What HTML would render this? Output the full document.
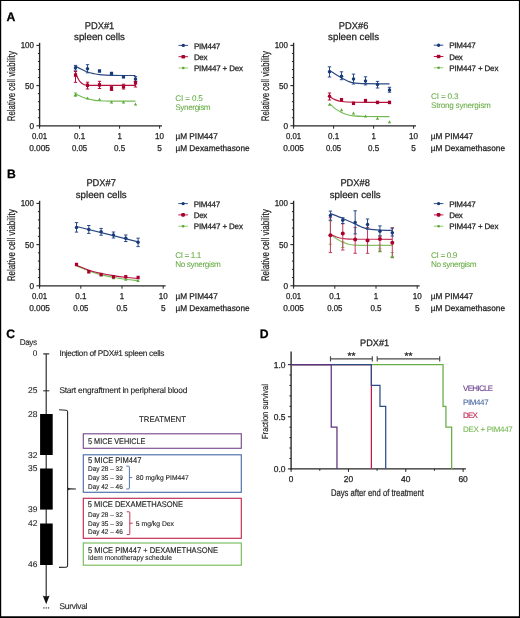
<!DOCTYPE html>
<html><head><meta charset="utf-8"><style>
html,body{margin:0;padding:0;background:#fff;}
svg{display:block;will-change:transform;}
text{font-family:"Liberation Sans", sans-serif;text-rendering:geometricPrecision;}
</style></head><body>
<svg width="520" height="618" viewBox="0 0 520 618">
<rect x="0" y="0" width="520" height="618" fill="#fff"/>
<line x1="39.60" y1="42.80" x2="39.60" y2="126.40" stroke="#262626" stroke-width="1.35" />
<line x1="36.40" y1="125.80" x2="39.60" y2="125.80" stroke="#262626" stroke-width="1.1" />
<line x1="37.90" y1="117.76" x2="39.60" y2="117.76" stroke="#262626" stroke-width="1.0" />
<line x1="37.90" y1="109.72" x2="39.60" y2="109.72" stroke="#262626" stroke-width="1.0" />
<line x1="37.90" y1="101.68" x2="39.60" y2="101.68" stroke="#262626" stroke-width="1.0" />
<line x1="37.90" y1="93.64" x2="39.60" y2="93.64" stroke="#262626" stroke-width="1.0" />
<line x1="36.40" y1="85.60" x2="39.60" y2="85.60" stroke="#262626" stroke-width="1.1" />
<line x1="37.90" y1="77.56" x2="39.60" y2="77.56" stroke="#262626" stroke-width="1.0" />
<line x1="37.90" y1="69.52" x2="39.60" y2="69.52" stroke="#262626" stroke-width="1.0" />
<line x1="37.90" y1="61.48" x2="39.60" y2="61.48" stroke="#262626" stroke-width="1.0" />
<line x1="37.90" y1="53.44" x2="39.60" y2="53.44" stroke="#262626" stroke-width="1.0" />
<line x1="36.40" y1="45.40" x2="39.60" y2="45.40" stroke="#262626" stroke-width="1.1" />
<line x1="39.00" y1="125.80" x2="162.00" y2="125.80" stroke="#262626" stroke-width="1.35" />
<line x1="39.60" y1="125.80" x2="39.60" y2="128.70" stroke="#262626" stroke-width="1.0" />
<line x1="79.60" y1="125.80" x2="79.60" y2="128.70" stroke="#262626" stroke-width="1.0" />
<line x1="119.60" y1="125.80" x2="119.60" y2="128.70" stroke="#262626" stroke-width="1.0" />
<line x1="159.60" y1="125.80" x2="159.60" y2="128.70" stroke="#262626" stroke-width="1.0" />
<text x="34.00" y="48.40" font-size="8.6" fill="#1e1e1e" stroke="#1e1e1e" stroke-width="0.25" text-anchor="end" font-weight="normal" textLength="13.3" lengthAdjust="spacingAndGlyphs" >100</text>
<text x="34.00" y="88.60" font-size="8.6" fill="#1e1e1e" stroke="#1e1e1e" stroke-width="0.25" text-anchor="end" font-weight="normal" textLength="9.0" lengthAdjust="spacingAndGlyphs" >50</text>
<text x="34.00" y="128.80" font-size="8.6" fill="#1e1e1e" stroke="#1e1e1e" stroke-width="0.25" text-anchor="end" font-weight="normal" textLength="4.6" lengthAdjust="spacingAndGlyphs" >0</text>
<text x="39.60" y="139.00" font-size="8.6" fill="#1e1e1e" stroke="#1e1e1e" stroke-width="0.25" text-anchor="middle" font-weight="normal" textLength="15.2" lengthAdjust="spacingAndGlyphs" >0.01</text>
<text x="39.60" y="150.70" font-size="8.6" fill="#1e1e1e" stroke="#1e1e1e" stroke-width="0.25" text-anchor="middle" font-weight="normal" textLength="20.8" lengthAdjust="spacingAndGlyphs" >0.005</text>
<text x="79.60" y="139.00" font-size="8.6" fill="#1e1e1e" stroke="#1e1e1e" stroke-width="0.25" text-anchor="middle" font-weight="normal" textLength="11.2" lengthAdjust="spacingAndGlyphs" >0.1</text>
<text x="79.60" y="150.70" font-size="8.6" fill="#1e1e1e" stroke="#1e1e1e" stroke-width="0.25" text-anchor="middle" font-weight="normal" textLength="15.2" lengthAdjust="spacingAndGlyphs" >0.05</text>
<text x="119.60" y="139.00" font-size="8.6" fill="#1e1e1e" stroke="#1e1e1e" stroke-width="0.25" text-anchor="middle" font-weight="normal" textLength="4.4" lengthAdjust="spacingAndGlyphs" >1</text>
<text x="119.60" y="150.70" font-size="8.6" fill="#1e1e1e" stroke="#1e1e1e" stroke-width="0.25" text-anchor="middle" font-weight="normal" textLength="11.2" lengthAdjust="spacingAndGlyphs" >0.5</text>
<text x="159.60" y="139.00" font-size="8.6" fill="#1e1e1e" stroke="#1e1e1e" stroke-width="0.25" text-anchor="middle" font-weight="normal" textLength="9.0" lengthAdjust="spacingAndGlyphs" >10</text>
<text x="159.60" y="150.70" font-size="8.6" fill="#1e1e1e" stroke="#1e1e1e" stroke-width="0.25" text-anchor="middle" font-weight="normal" textLength="4.6" lengthAdjust="spacingAndGlyphs" >5</text>
<text x="175.40" y="139.00" font-size="8.5" fill="#1e1e1e" stroke="#1e1e1e" stroke-width="0.25" text-anchor="start" font-weight="normal" textLength="42.4" lengthAdjust="spacingAndGlyphs" >&#181;M PIM447</text>
<text x="175.40" y="150.70" font-size="8.5" fill="#1e1e1e" stroke="#1e1e1e" stroke-width="0.25" text-anchor="start" font-weight="normal" textLength="74.2" lengthAdjust="spacingAndGlyphs" >&#181;M Dexamethasone</text>
<text transform="translate(14.700000000000003,86.19999999999999) rotate(-90)" font-size="11.0" fill="#1e1e1e" stroke="#1e1e1e" stroke-width="0.22" text-anchor="middle" textLength="70" lengthAdjust="spacingAndGlyphs">Relative cell viability</text>
<text x="99.50" y="28.50" font-size="9.8" fill="#1e1e1e" stroke="#1e1e1e" stroke-width="0.25" text-anchor="middle" font-weight="normal" textLength="29.6" lengthAdjust="spacingAndGlyphs" >PDX#1</text>
<text x="99.50" y="40.10" font-size="9.8" fill="#1e1e1e" stroke="#1e1e1e" stroke-width="0.25" text-anchor="middle" font-weight="normal" textLength="51" lengthAdjust="spacingAndGlyphs" >spleen cells</text>
<line x1="178.50" y1="45.40" x2="188.10" y2="45.40" stroke="#2a4a85" stroke-width="0.95" />
<circle cx="183.3" cy="45.4" r="1.7" fill="#173a78"/>
<text x="193.90" y="48.60" font-size="8.0" fill="#1e1e1e" stroke="#1e1e1e" stroke-width="0.25" text-anchor="start" font-weight="normal" textLength="26.4" lengthAdjust="spacing" >PIM447</text>
<line x1="178.50" y1="56.70" x2="188.10" y2="56.70" stroke="#b3103c" stroke-width="0.95" />
<rect x="181.4" y="54.900000000000006" width="3.8" height="3.6" rx="1.1" fill="#a9002c"/>
<text x="193.90" y="59.90" font-size="8.0" fill="#1e1e1e" stroke="#1e1e1e" stroke-width="0.25" text-anchor="start" font-weight="normal" textLength="13.6" lengthAdjust="spacing" >Dex</text>
<line x1="178.50" y1="68.00" x2="188.10" y2="68.00" stroke="#92c772" stroke-width="0.95" />
<circle cx="183.3" cy="68.0" r="1.3" fill="#5aa63a"/>
<text x="193.90" y="71.20" font-size="8.0" fill="#1e1e1e" stroke="#1e1e1e" stroke-width="0.25" text-anchor="start" font-weight="normal" textLength="49.2" lengthAdjust="spacing" >PIM447 + Dex</text>
<text x="175.30" y="101.30" font-size="8.2" fill="#66ab44" stroke="#66ab44" stroke-width="0.05" text-anchor="start" font-weight="normal" textLength="27.6" lengthAdjust="spacing" >CI = 0.5</text>
<text x="175.30" y="110.30" font-size="8.2" fill="#66ab44" stroke="#66ab44" stroke-width="0.05" text-anchor="start" font-weight="normal" textLength="35.4" lengthAdjust="spacing" >Synergism</text>
<path d="M75.50 94.00 C76.50 94.45 79.50 95.92 81.50 96.70 C83.50 97.48 85.50 98.13 87.50 98.70 C89.50 99.27 91.50 99.75 93.50 100.10 C95.50 100.45 96.50 100.63 99.50 100.80 C102.50 100.97 105.50 101.04 111.50 101.10 C117.50 101.16 131.50 101.14 135.50 101.15" fill="none" stroke="#74ba52" stroke-width="1.15"/>
<path d="M75.50 72.30 C75.83 73.17 76.75 75.95 77.50 77.50 C78.25 79.05 79.00 80.47 80.00 81.60 C81.00 82.73 82.25 83.70 83.50 84.30 C84.75 84.90 84.83 85.02 87.50 85.20 C90.17 85.38 91.50 85.37 99.50 85.40 C107.50 85.43 129.50 85.40 135.50 85.40" fill="none" stroke="#b3103c" stroke-width="1.15"/>
<path d="M75.50 66.00 C76.50 66.55 79.50 68.30 81.50 69.30 C83.50 70.30 85.50 71.28 87.50 72.00 C89.50 72.72 91.50 73.17 93.50 73.60 C95.50 74.03 96.50 74.32 99.50 74.60 C102.50 74.88 105.50 75.15 111.50 75.30 C117.50 75.45 131.50 75.47 135.50 75.50" fill="none" stroke="#2a4a85" stroke-width="1.2"/>
<line x1="75.50" y1="93.00" x2="75.50" y2="96.30" stroke="#74ba52" stroke-width="1.0" />
<line x1="73.80" y1="93.00" x2="77.20" y2="93.00" stroke="#74ba52" stroke-width="1.0" />
<line x1="73.80" y1="96.30" x2="77.20" y2="96.30" stroke="#74ba52" stroke-width="1.0" />
<line x1="75.50" y1="71.50" x2="75.50" y2="82.30" stroke="#b3103c" stroke-width="1.0" />
<line x1="73.80" y1="71.50" x2="77.20" y2="71.50" stroke="#b3103c" stroke-width="1.0" />
<line x1="73.80" y1="82.30" x2="77.20" y2="82.30" stroke="#b3103c" stroke-width="1.0" />
<line x1="87.50" y1="82.20" x2="87.50" y2="89.00" stroke="#b3103c" stroke-width="1.0" />
<line x1="85.80" y1="82.20" x2="89.20" y2="82.20" stroke="#b3103c" stroke-width="1.0" />
<line x1="85.80" y1="89.00" x2="89.20" y2="89.00" stroke="#b3103c" stroke-width="1.0" />
<line x1="99.50" y1="81.30" x2="99.50" y2="88.50" stroke="#b3103c" stroke-width="1.0" />
<line x1="97.80" y1="81.30" x2="101.20" y2="81.30" stroke="#b3103c" stroke-width="1.0" />
<line x1="97.80" y1="88.50" x2="101.20" y2="88.50" stroke="#b3103c" stroke-width="1.0" />
<line x1="111.50" y1="86.20" x2="111.50" y2="90.50" stroke="#b3103c" stroke-width="1.0" />
<line x1="109.80" y1="86.20" x2="113.20" y2="86.20" stroke="#b3103c" stroke-width="1.0" />
<line x1="109.80" y1="90.50" x2="113.20" y2="90.50" stroke="#b3103c" stroke-width="1.0" />
<line x1="123.50" y1="84.20" x2="123.50" y2="89.00" stroke="#b3103c" stroke-width="1.0" />
<line x1="121.80" y1="84.20" x2="125.20" y2="84.20" stroke="#b3103c" stroke-width="1.0" />
<line x1="121.80" y1="89.00" x2="125.20" y2="89.00" stroke="#b3103c" stroke-width="1.0" />
<line x1="135.50" y1="81.20" x2="135.50" y2="87.00" stroke="#b3103c" stroke-width="1.0" />
<line x1="133.80" y1="81.20" x2="137.20" y2="81.20" stroke="#b3103c" stroke-width="1.0" />
<line x1="133.80" y1="87.00" x2="137.20" y2="87.00" stroke="#b3103c" stroke-width="1.0" />
<line x1="75.50" y1="65.40" x2="75.50" y2="70.20" stroke="#2a4a85" stroke-width="1.0" />
<line x1="73.80" y1="65.40" x2="77.20" y2="65.40" stroke="#2a4a85" stroke-width="1.0" />
<line x1="73.80" y1="70.20" x2="77.20" y2="70.20" stroke="#2a4a85" stroke-width="1.0" />
<line x1="87.50" y1="64.70" x2="87.50" y2="72.80" stroke="#2a4a85" stroke-width="1.0" />
<line x1="85.80" y1="64.70" x2="89.20" y2="64.70" stroke="#2a4a85" stroke-width="1.0" />
<line x1="85.80" y1="72.80" x2="89.20" y2="72.80" stroke="#2a4a85" stroke-width="1.0" />
<line x1="135.50" y1="76.60" x2="135.50" y2="81.60" stroke="#2a4a85" stroke-width="1.0" />
<line x1="133.80" y1="76.60" x2="137.20" y2="76.60" stroke="#2a4a85" stroke-width="1.0" />
<line x1="133.80" y1="81.60" x2="137.20" y2="81.60" stroke="#2a4a85" stroke-width="1.0" />
<path d="M73.85 96.00 L77.15 96.00 L75.50 93.00Z" fill="#5aa63a"/>
<path d="M85.85 99.40 L89.15 99.40 L87.50 96.40Z" fill="#5aa63a"/>
<path d="M97.85 100.70 L101.15 100.70 L99.50 97.70Z" fill="#5aa63a"/>
<path d="M109.85 103.40 L113.15 103.40 L111.50 100.40Z" fill="#5aa63a"/>
<path d="M121.85 103.40 L125.15 103.40 L123.50 100.40Z" fill="#5aa63a"/>
<path d="M133.85 105.40 L137.15 105.40 L135.50 102.40Z" fill="#5aa63a"/>
<rect x="73.90" y="73.35" width="3.2" height="3.5" fill="#a9002c"/>
<rect x="85.90" y="83.55" width="3.2" height="3.5" fill="#a9002c"/>
<rect x="97.90" y="83.15" width="3.2" height="3.5" fill="#a9002c"/>
<rect x="109.90" y="86.55" width="3.2" height="3.5" fill="#a9002c"/>
<rect x="121.90" y="84.85" width="3.2" height="3.5" fill="#a9002c"/>
<rect x="133.90" y="81.15" width="3.2" height="3.5" fill="#a9002c"/>
<circle cx="75.50" cy="67.80" r="1.75" fill="#173a78"/>
<circle cx="87.50" cy="68.70" r="1.75" fill="#173a78"/>
<rect x="97.90" y="69.25" width="3.2" height="3.5" fill="#173a78"/>
<rect x="109.90" y="71.75" width="3.2" height="3.5" fill="#173a78"/>
<rect x="121.90" y="75.05" width="3.2" height="3.5" fill="#173a78"/>
<circle cx="135.50" cy="78.90" r="1.75" fill="#173a78"/>
<line x1="293.60" y1="42.80" x2="293.60" y2="126.40" stroke="#262626" stroke-width="1.35" />
<line x1="290.40" y1="125.80" x2="293.60" y2="125.80" stroke="#262626" stroke-width="1.1" />
<line x1="291.90" y1="117.76" x2="293.60" y2="117.76" stroke="#262626" stroke-width="1.0" />
<line x1="291.90" y1="109.72" x2="293.60" y2="109.72" stroke="#262626" stroke-width="1.0" />
<line x1="291.90" y1="101.68" x2="293.60" y2="101.68" stroke="#262626" stroke-width="1.0" />
<line x1="291.90" y1="93.64" x2="293.60" y2="93.64" stroke="#262626" stroke-width="1.0" />
<line x1="290.40" y1="85.60" x2="293.60" y2="85.60" stroke="#262626" stroke-width="1.1" />
<line x1="291.90" y1="77.56" x2="293.60" y2="77.56" stroke="#262626" stroke-width="1.0" />
<line x1="291.90" y1="69.52" x2="293.60" y2="69.52" stroke="#262626" stroke-width="1.0" />
<line x1="291.90" y1="61.48" x2="293.60" y2="61.48" stroke="#262626" stroke-width="1.0" />
<line x1="291.90" y1="53.44" x2="293.60" y2="53.44" stroke="#262626" stroke-width="1.0" />
<line x1="290.40" y1="45.40" x2="293.60" y2="45.40" stroke="#262626" stroke-width="1.1" />
<line x1="293.00" y1="125.80" x2="416.00" y2="125.80" stroke="#262626" stroke-width="1.35" />
<line x1="293.60" y1="125.80" x2="293.60" y2="128.70" stroke="#262626" stroke-width="1.0" />
<line x1="333.60" y1="125.80" x2="333.60" y2="128.70" stroke="#262626" stroke-width="1.0" />
<line x1="373.60" y1="125.80" x2="373.60" y2="128.70" stroke="#262626" stroke-width="1.0" />
<line x1="413.60" y1="125.80" x2="413.60" y2="128.70" stroke="#262626" stroke-width="1.0" />
<text x="288.00" y="48.40" font-size="8.6" fill="#1e1e1e" stroke="#1e1e1e" stroke-width="0.25" text-anchor="end" font-weight="normal" textLength="13.3" lengthAdjust="spacingAndGlyphs" >100</text>
<text x="288.00" y="88.60" font-size="8.6" fill="#1e1e1e" stroke="#1e1e1e" stroke-width="0.25" text-anchor="end" font-weight="normal" textLength="9.0" lengthAdjust="spacingAndGlyphs" >50</text>
<text x="288.00" y="128.80" font-size="8.6" fill="#1e1e1e" stroke="#1e1e1e" stroke-width="0.25" text-anchor="end" font-weight="normal" textLength="4.6" lengthAdjust="spacingAndGlyphs" >0</text>
<text x="293.60" y="139.00" font-size="8.6" fill="#1e1e1e" stroke="#1e1e1e" stroke-width="0.25" text-anchor="middle" font-weight="normal" textLength="15.2" lengthAdjust="spacingAndGlyphs" >0.01</text>
<text x="293.60" y="150.70" font-size="8.6" fill="#1e1e1e" stroke="#1e1e1e" stroke-width="0.25" text-anchor="middle" font-weight="normal" textLength="20.8" lengthAdjust="spacingAndGlyphs" >0.005</text>
<text x="333.60" y="139.00" font-size="8.6" fill="#1e1e1e" stroke="#1e1e1e" stroke-width="0.25" text-anchor="middle" font-weight="normal" textLength="11.2" lengthAdjust="spacingAndGlyphs" >0.1</text>
<text x="333.60" y="150.70" font-size="8.6" fill="#1e1e1e" stroke="#1e1e1e" stroke-width="0.25" text-anchor="middle" font-weight="normal" textLength="15.2" lengthAdjust="spacingAndGlyphs" >0.05</text>
<text x="373.60" y="139.00" font-size="8.6" fill="#1e1e1e" stroke="#1e1e1e" stroke-width="0.25" text-anchor="middle" font-weight="normal" textLength="4.4" lengthAdjust="spacingAndGlyphs" >1</text>
<text x="373.60" y="150.70" font-size="8.6" fill="#1e1e1e" stroke="#1e1e1e" stroke-width="0.25" text-anchor="middle" font-weight="normal" textLength="11.2" lengthAdjust="spacingAndGlyphs" >0.5</text>
<text x="413.60" y="139.00" font-size="8.6" fill="#1e1e1e" stroke="#1e1e1e" stroke-width="0.25" text-anchor="middle" font-weight="normal" textLength="9.0" lengthAdjust="spacingAndGlyphs" >10</text>
<text x="413.60" y="150.70" font-size="8.6" fill="#1e1e1e" stroke="#1e1e1e" stroke-width="0.25" text-anchor="middle" font-weight="normal" textLength="4.6" lengthAdjust="spacingAndGlyphs" >5</text>
<text x="430.80" y="139.00" font-size="8.5" fill="#1e1e1e" stroke="#1e1e1e" stroke-width="0.25" text-anchor="start" font-weight="normal" textLength="42.4" lengthAdjust="spacingAndGlyphs" >&#181;M PIM447</text>
<text x="430.80" y="150.70" font-size="8.5" fill="#1e1e1e" stroke="#1e1e1e" stroke-width="0.25" text-anchor="start" font-weight="normal" textLength="74.2" lengthAdjust="spacingAndGlyphs" >&#181;M Dexamethasone</text>
<text transform="translate(268.70000000000005,86.19999999999999) rotate(-90)" font-size="11.0" fill="#1e1e1e" stroke="#1e1e1e" stroke-width="0.22" text-anchor="middle" textLength="70" lengthAdjust="spacingAndGlyphs">Relative cell viability</text>
<text x="353.60" y="28.50" font-size="9.8" fill="#1e1e1e" stroke="#1e1e1e" stroke-width="0.25" text-anchor="middle" font-weight="normal" textLength="29.6" lengthAdjust="spacingAndGlyphs" >PDX#6</text>
<text x="353.60" y="40.10" font-size="9.8" fill="#1e1e1e" stroke="#1e1e1e" stroke-width="0.25" text-anchor="middle" font-weight="normal" textLength="51" lengthAdjust="spacingAndGlyphs" >spleen cells</text>
<line x1="433.80" y1="45.20" x2="443.40" y2="45.20" stroke="#2a4a85" stroke-width="0.95" />
<circle cx="438.6" cy="45.2" r="1.7" fill="#173a78"/>
<text x="449.20" y="48.40" font-size="8.0" fill="#1e1e1e" stroke="#1e1e1e" stroke-width="0.25" text-anchor="start" font-weight="normal" textLength="26.4" lengthAdjust="spacing" >PIM447</text>
<line x1="433.80" y1="56.50" x2="443.40" y2="56.50" stroke="#b3103c" stroke-width="0.95" />
<rect x="436.70000000000005" y="54.7" width="3.8" height="3.6" rx="1.1" fill="#a9002c"/>
<text x="449.20" y="59.70" font-size="8.0" fill="#1e1e1e" stroke="#1e1e1e" stroke-width="0.25" text-anchor="start" font-weight="normal" textLength="13.6" lengthAdjust="spacing" >Dex</text>
<line x1="433.80" y1="67.80" x2="443.40" y2="67.80" stroke="#92c772" stroke-width="0.95" />
<circle cx="438.6" cy="67.80000000000001" r="1.3" fill="#5aa63a"/>
<text x="449.20" y="71.00" font-size="8.0" fill="#1e1e1e" stroke="#1e1e1e" stroke-width="0.25" text-anchor="start" font-weight="normal" textLength="49.2" lengthAdjust="spacing" >PIM447 + Dex</text>
<text x="431.00" y="98.70" font-size="8.2" fill="#66ab44" stroke="#66ab44" stroke-width="0.05" text-anchor="start" font-weight="normal" textLength="27.6" lengthAdjust="spacing" >CI = 0.3</text>
<text x="431.00" y="107.70" font-size="8.2" fill="#66ab44" stroke="#66ab44" stroke-width="0.05" text-anchor="start" font-weight="normal" textLength="59.8" lengthAdjust="spacing" >Strong synergism</text>
<path d="M329.50 103.60 C330.50 104.48 333.50 107.43 335.50 108.90 C337.50 110.37 339.50 111.43 341.50 112.40 C343.50 113.37 345.50 114.12 347.50 114.70 C349.50 115.28 350.50 115.60 353.50 115.90 C356.50 116.20 359.50 116.38 365.50 116.50 C371.50 116.62 385.50 116.58 389.50 116.60" fill="none" stroke="#74ba52" stroke-width="1.15"/>
<path d="M329.50 96.50 C330.50 97.07 333.50 99.07 335.50 99.90 C337.50 100.73 338.50 101.12 341.50 101.50 C344.50 101.88 345.50 102.05 353.50 102.20 C361.50 102.35 383.50 102.37 389.50 102.40" fill="none" stroke="#b3103c" stroke-width="1.15"/>
<path d="M329.50 70.40 C330.50 71.03 333.50 72.95 335.50 74.20 C337.50 75.45 339.50 76.77 341.50 77.90 C343.50 79.03 345.50 80.17 347.50 81.00 C349.50 81.83 350.50 82.45 353.50 82.90 C356.50 83.35 359.50 83.55 365.50 83.70 C371.50 83.85 385.50 83.78 389.50 83.80" fill="none" stroke="#2a4a85" stroke-width="1.2"/>
<line x1="329.50" y1="93.00" x2="329.50" y2="100.00" stroke="#b3103c" stroke-width="1.0" />
<line x1="327.80" y1="93.00" x2="331.20" y2="93.00" stroke="#b3103c" stroke-width="1.0" />
<line x1="327.80" y1="100.00" x2="331.20" y2="100.00" stroke="#b3103c" stroke-width="1.0" />
<line x1="329.50" y1="66.80" x2="329.50" y2="77.00" stroke="#2a4a85" stroke-width="1.0" />
<line x1="327.80" y1="66.80" x2="331.20" y2="66.80" stroke="#2a4a85" stroke-width="1.0" />
<line x1="327.80" y1="77.00" x2="331.20" y2="77.00" stroke="#2a4a85" stroke-width="1.0" />
<line x1="341.50" y1="71.80" x2="341.50" y2="79.70" stroke="#2a4a85" stroke-width="1.0" />
<line x1="339.80" y1="71.80" x2="343.20" y2="71.80" stroke="#2a4a85" stroke-width="1.0" />
<line x1="339.80" y1="79.70" x2="343.20" y2="79.70" stroke="#2a4a85" stroke-width="1.0" />
<line x1="353.50" y1="74.10" x2="353.50" y2="84.00" stroke="#2a4a85" stroke-width="1.0" />
<line x1="351.80" y1="74.10" x2="355.20" y2="74.10" stroke="#2a4a85" stroke-width="1.0" />
<line x1="351.80" y1="84.00" x2="355.20" y2="84.00" stroke="#2a4a85" stroke-width="1.0" />
<line x1="365.50" y1="76.80" x2="365.50" y2="84.90" stroke="#2a4a85" stroke-width="1.0" />
<line x1="363.80" y1="76.80" x2="367.20" y2="76.80" stroke="#2a4a85" stroke-width="1.0" />
<line x1="363.80" y1="84.90" x2="367.20" y2="84.90" stroke="#2a4a85" stroke-width="1.0" />
<line x1="377.50" y1="81.40" x2="377.50" y2="88.00" stroke="#2a4a85" stroke-width="1.0" />
<line x1="375.80" y1="81.40" x2="379.20" y2="81.40" stroke="#2a4a85" stroke-width="1.0" />
<line x1="375.80" y1="88.00" x2="379.20" y2="88.00" stroke="#2a4a85" stroke-width="1.0" />
<line x1="389.50" y1="87.30" x2="389.50" y2="92.20" stroke="#2a4a85" stroke-width="1.0" />
<line x1="387.80" y1="87.30" x2="391.20" y2="87.30" stroke="#2a4a85" stroke-width="1.0" />
<line x1="387.80" y1="92.20" x2="391.20" y2="92.20" stroke="#2a4a85" stroke-width="1.0" />
<path d="M327.85 105.70 L331.15 105.70 L329.50 102.70Z" fill="#5aa63a"/>
<path d="M339.85 111.30 L343.15 111.30 L341.50 108.30Z" fill="#5aa63a"/>
<path d="M351.85 114.50 L355.15 114.50 L353.50 111.50Z" fill="#5aa63a"/>
<path d="M363.85 117.60 L367.15 117.60 L365.50 114.60Z" fill="#5aa63a"/>
<path d="M375.85 119.80 L379.15 119.80 L377.50 116.80Z" fill="#5aa63a"/>
<path d="M387.85 123.20 L391.15 123.20 L389.50 120.20Z" fill="#5aa63a"/>
<circle cx="329.50" cy="96.30" r="1.75" fill="#a9002c"/>
<rect x="339.90" y="97.95" width="3.2" height="3.5" fill="#a9002c"/>
<rect x="351.90" y="101.55" width="3.2" height="3.5" fill="#a9002c"/>
<rect x="363.90" y="98.85" width="3.2" height="3.5" fill="#a9002c"/>
<rect x="375.90" y="100.65" width="3.2" height="3.5" fill="#a9002c"/>
<rect x="387.90" y="100.65" width="3.2" height="3.5" fill="#a9002c"/>
<circle cx="329.50" cy="71.80" r="1.75" fill="#173a78"/>
<circle cx="341.50" cy="76.20" r="1.75" fill="#173a78"/>
<circle cx="353.50" cy="79.10" r="1.75" fill="#173a78"/>
<circle cx="365.50" cy="80.90" r="1.75" fill="#173a78"/>
<circle cx="377.50" cy="84.60" r="1.75" fill="#173a78"/>
<circle cx="389.50" cy="89.90" r="1.75" fill="#173a78"/>
<line x1="39.60" y1="200.80" x2="39.60" y2="286.40" stroke="#262626" stroke-width="1.35" />
<line x1="36.40" y1="285.80" x2="39.60" y2="285.80" stroke="#262626" stroke-width="1.1" />
<line x1="37.90" y1="277.56" x2="39.60" y2="277.56" stroke="#262626" stroke-width="1.0" />
<line x1="37.90" y1="269.32" x2="39.60" y2="269.32" stroke="#262626" stroke-width="1.0" />
<line x1="37.90" y1="261.08" x2="39.60" y2="261.08" stroke="#262626" stroke-width="1.0" />
<line x1="37.90" y1="252.84" x2="39.60" y2="252.84" stroke="#262626" stroke-width="1.0" />
<line x1="36.40" y1="244.60" x2="39.60" y2="244.60" stroke="#262626" stroke-width="1.1" />
<line x1="37.90" y1="236.36" x2="39.60" y2="236.36" stroke="#262626" stroke-width="1.0" />
<line x1="37.90" y1="228.12" x2="39.60" y2="228.12" stroke="#262626" stroke-width="1.0" />
<line x1="37.90" y1="219.88" x2="39.60" y2="219.88" stroke="#262626" stroke-width="1.0" />
<line x1="37.90" y1="211.64" x2="39.60" y2="211.64" stroke="#262626" stroke-width="1.0" />
<line x1="36.40" y1="203.40" x2="39.60" y2="203.40" stroke="#262626" stroke-width="1.1" />
<line x1="39.00" y1="285.80" x2="165.60" y2="285.80" stroke="#262626" stroke-width="1.35" />
<line x1="39.60" y1="285.80" x2="39.60" y2="288.70" stroke="#262626" stroke-width="1.0" />
<line x1="80.80" y1="285.80" x2="80.80" y2="288.70" stroke="#262626" stroke-width="1.0" />
<line x1="122.00" y1="285.80" x2="122.00" y2="288.70" stroke="#262626" stroke-width="1.0" />
<line x1="163.20" y1="285.80" x2="163.20" y2="288.70" stroke="#262626" stroke-width="1.0" />
<text x="34.00" y="206.40" font-size="8.6" fill="#1e1e1e" stroke="#1e1e1e" stroke-width="0.25" text-anchor="end" font-weight="normal" textLength="13.3" lengthAdjust="spacingAndGlyphs" >100</text>
<text x="34.00" y="247.60" font-size="8.6" fill="#1e1e1e" stroke="#1e1e1e" stroke-width="0.25" text-anchor="end" font-weight="normal" textLength="9.0" lengthAdjust="spacingAndGlyphs" >50</text>
<text x="34.00" y="288.80" font-size="8.6" fill="#1e1e1e" stroke="#1e1e1e" stroke-width="0.25" text-anchor="end" font-weight="normal" textLength="4.6" lengthAdjust="spacingAndGlyphs" >0</text>
<text x="39.60" y="299.00" font-size="8.6" fill="#1e1e1e" stroke="#1e1e1e" stroke-width="0.25" text-anchor="middle" font-weight="normal" textLength="15.2" lengthAdjust="spacingAndGlyphs" >0.01</text>
<text x="39.60" y="310.90" font-size="8.6" fill="#1e1e1e" stroke="#1e1e1e" stroke-width="0.25" text-anchor="middle" font-weight="normal" textLength="20.8" lengthAdjust="spacingAndGlyphs" >0.005</text>
<text x="80.80" y="299.00" font-size="8.6" fill="#1e1e1e" stroke="#1e1e1e" stroke-width="0.25" text-anchor="middle" font-weight="normal" textLength="11.2" lengthAdjust="spacingAndGlyphs" >0.1</text>
<text x="80.80" y="310.90" font-size="8.6" fill="#1e1e1e" stroke="#1e1e1e" stroke-width="0.25" text-anchor="middle" font-weight="normal" textLength="15.2" lengthAdjust="spacingAndGlyphs" >0.05</text>
<text x="122.00" y="299.00" font-size="8.6" fill="#1e1e1e" stroke="#1e1e1e" stroke-width="0.25" text-anchor="middle" font-weight="normal" textLength="4.4" lengthAdjust="spacingAndGlyphs" >1</text>
<text x="122.00" y="310.90" font-size="8.6" fill="#1e1e1e" stroke="#1e1e1e" stroke-width="0.25" text-anchor="middle" font-weight="normal" textLength="11.2" lengthAdjust="spacingAndGlyphs" >0.5</text>
<text x="163.20" y="299.00" font-size="8.6" fill="#1e1e1e" stroke="#1e1e1e" stroke-width="0.25" text-anchor="middle" font-weight="normal" textLength="9.0" lengthAdjust="spacingAndGlyphs" >10</text>
<text x="163.20" y="310.90" font-size="8.6" fill="#1e1e1e" stroke="#1e1e1e" stroke-width="0.25" text-anchor="middle" font-weight="normal" textLength="4.6" lengthAdjust="spacingAndGlyphs" >5</text>
<text x="175.40" y="299.00" font-size="8.5" fill="#1e1e1e" stroke="#1e1e1e" stroke-width="0.25" text-anchor="start" font-weight="normal" textLength="42.4" lengthAdjust="spacingAndGlyphs" >&#181;M PIM447</text>
<text x="175.40" y="310.90" font-size="8.5" fill="#1e1e1e" stroke="#1e1e1e" stroke-width="0.25" text-anchor="start" font-weight="normal" textLength="74.2" lengthAdjust="spacingAndGlyphs" >&#181;M Dexamethasone</text>
<text transform="translate(14.700000000000003,245.2) rotate(-90)" font-size="11.0" fill="#1e1e1e" stroke="#1e1e1e" stroke-width="0.22" text-anchor="middle" textLength="72" lengthAdjust="spacingAndGlyphs">Relative cell viability</text>
<text x="101.20" y="186.30" font-size="9.8" fill="#1e1e1e" stroke="#1e1e1e" stroke-width="0.25" text-anchor="middle" font-weight="normal" textLength="29.6" lengthAdjust="spacingAndGlyphs" >PDX#7</text>
<text x="101.20" y="197.90" font-size="9.8" fill="#1e1e1e" stroke="#1e1e1e" stroke-width="0.25" text-anchor="middle" font-weight="normal" textLength="51" lengthAdjust="spacingAndGlyphs" >spleen cells</text>
<line x1="178.30" y1="203.60" x2="187.90" y2="203.60" stroke="#2a4a85" stroke-width="0.95" />
<circle cx="183.10000000000002" cy="203.6" r="1.7" fill="#173a78"/>
<text x="193.70" y="206.80" font-size="8.0" fill="#1e1e1e" stroke="#1e1e1e" stroke-width="0.25" text-anchor="start" font-weight="normal" textLength="26.4" lengthAdjust="spacing" >PIM447</text>
<line x1="178.30" y1="214.90" x2="187.90" y2="214.90" stroke="#b3103c" stroke-width="0.95" />
<rect x="181.20000000000002" y="213.1" width="3.8" height="3.6" rx="1.1" fill="#a9002c"/>
<text x="193.70" y="218.10" font-size="8.0" fill="#1e1e1e" stroke="#1e1e1e" stroke-width="0.25" text-anchor="start" font-weight="normal" textLength="13.6" lengthAdjust="spacing" >Dex</text>
<line x1="178.30" y1="226.20" x2="187.90" y2="226.20" stroke="#92c772" stroke-width="0.95" />
<circle cx="183.10000000000002" cy="226.2" r="1.3" fill="#5aa63a"/>
<text x="193.70" y="229.40" font-size="8.0" fill="#1e1e1e" stroke="#1e1e1e" stroke-width="0.25" text-anchor="start" font-weight="normal" textLength="49.2" lengthAdjust="spacing" >PIM447 + Dex</text>
<text x="175.30" y="257.80" font-size="8.2" fill="#66ab44" stroke="#66ab44" stroke-width="0.05" text-anchor="start" font-weight="normal" textLength="26.0" lengthAdjust="spacing" >CI = 1.1</text>
<text x="175.30" y="266.80" font-size="8.2" fill="#66ab44" stroke="#66ab44" stroke-width="0.05" text-anchor="start" font-weight="normal" textLength="45.6" lengthAdjust="spacing" >No synergism</text>
<path d="M76.50 266.00 C78.58 266.83 84.98 269.57 89.00 271.00 C93.02 272.43 96.55 273.55 100.60 274.60 C104.65 275.65 109.13 276.52 113.30 277.30 C117.47 278.08 121.47 278.75 125.60 279.30 C129.73 279.85 136.02 280.38 138.10 280.60" fill="none" stroke="#74ba52" stroke-width="1.1"/>
<path d="M76.50 265.30 C78.58 266.12 84.98 268.88 89.00 270.20 C93.02 271.52 96.55 272.30 100.60 273.20 C104.65 274.10 109.13 274.92 113.30 275.60 C117.47 276.28 121.47 276.82 125.60 277.30 C129.73 277.78 136.02 278.30 138.10 278.50" fill="none" stroke="#b3103c" stroke-width="1.1"/>
<path d="M76.50 226.50 C86.77 229.05 127.83 239.25 138.10 241.80" fill="none" stroke="#2a4a85" stroke-width="1.2"/>
<line x1="76.50" y1="222.60" x2="76.50" y2="232.10" stroke="#2a4a85" stroke-width="1.0" />
<line x1="74.80" y1="222.60" x2="78.20" y2="222.60" stroke="#2a4a85" stroke-width="1.0" />
<line x1="74.80" y1="232.10" x2="78.20" y2="232.10" stroke="#2a4a85" stroke-width="1.0" />
<line x1="88.82" y1="225.50" x2="88.82" y2="233.40" stroke="#2a4a85" stroke-width="1.0" />
<line x1="87.12" y1="225.50" x2="90.52" y2="225.50" stroke="#2a4a85" stroke-width="1.0" />
<line x1="87.12" y1="233.40" x2="90.52" y2="233.40" stroke="#2a4a85" stroke-width="1.0" />
<line x1="101.14" y1="228.40" x2="101.14" y2="235.20" stroke="#2a4a85" stroke-width="1.0" />
<line x1="99.44" y1="228.40" x2="102.84" y2="228.40" stroke="#2a4a85" stroke-width="1.0" />
<line x1="99.44" y1="235.20" x2="102.84" y2="235.20" stroke="#2a4a85" stroke-width="1.0" />
<line x1="113.46" y1="232.00" x2="113.46" y2="238.00" stroke="#2a4a85" stroke-width="1.0" />
<line x1="111.76" y1="232.00" x2="115.16" y2="232.00" stroke="#2a4a85" stroke-width="1.0" />
<line x1="111.76" y1="238.00" x2="115.16" y2="238.00" stroke="#2a4a85" stroke-width="1.0" />
<line x1="125.78" y1="235.00" x2="125.78" y2="241.50" stroke="#2a4a85" stroke-width="1.0" />
<line x1="124.08" y1="235.00" x2="127.48" y2="235.00" stroke="#2a4a85" stroke-width="1.0" />
<line x1="124.08" y1="241.50" x2="127.48" y2="241.50" stroke="#2a4a85" stroke-width="1.0" />
<line x1="138.10" y1="238.20" x2="138.10" y2="246.60" stroke="#2a4a85" stroke-width="1.0" />
<line x1="136.40" y1="238.20" x2="139.80" y2="238.20" stroke="#2a4a85" stroke-width="1.0" />
<line x1="136.40" y1="246.60" x2="139.80" y2="246.60" stroke="#2a4a85" stroke-width="1.0" />
<path d="M87.17 273.30 L90.47 273.30 L88.82 270.30Z" fill="#5aa63a"/>
<path d="M99.49 276.30 L102.79 276.30 L101.14 273.30Z" fill="#5aa63a"/>
<path d="M111.81 279.30 L115.11 279.30 L113.46 276.30Z" fill="#5aa63a"/>
<path d="M124.13 280.80 L127.43 280.80 L125.78 277.80Z" fill="#5aa63a"/>
<path d="M136.45 282.10 L139.75 282.10 L138.10 279.10Z" fill="#5aa63a"/>
<rect x="74.90" y="262.75" width="3.2" height="3.5" fill="#a9002c"/>
<rect x="87.22" y="269.95" width="3.2" height="3.5" fill="#a9002c"/>
<rect x="99.54" y="272.85" width="3.2" height="3.5" fill="#a9002c"/>
<rect x="111.86" y="275.05" width="3.2" height="3.5" fill="#a9002c"/>
<rect x="124.18" y="275.05" width="3.2" height="3.5" fill="#a9002c"/>
<rect x="136.50" y="275.75" width="3.2" height="3.5" fill="#a9002c"/>
<circle cx="76.50" cy="227.40" r="1.75" fill="#173a78"/>
<circle cx="88.82" cy="229.50" r="1.75" fill="#173a78"/>
<circle cx="101.14" cy="231.70" r="1.75" fill="#173a78"/>
<circle cx="113.46" cy="235.00" r="1.75" fill="#173a78"/>
<circle cx="125.78" cy="238.20" r="1.75" fill="#173a78"/>
<circle cx="138.10" cy="242.20" r="1.75" fill="#173a78"/>
<line x1="293.60" y1="200.80" x2="293.60" y2="286.40" stroke="#262626" stroke-width="1.35" />
<line x1="290.40" y1="285.80" x2="293.60" y2="285.80" stroke="#262626" stroke-width="1.1" />
<line x1="291.90" y1="277.56" x2="293.60" y2="277.56" stroke="#262626" stroke-width="1.0" />
<line x1="291.90" y1="269.32" x2="293.60" y2="269.32" stroke="#262626" stroke-width="1.0" />
<line x1="291.90" y1="261.08" x2="293.60" y2="261.08" stroke="#262626" stroke-width="1.0" />
<line x1="291.90" y1="252.84" x2="293.60" y2="252.84" stroke="#262626" stroke-width="1.0" />
<line x1="290.40" y1="244.60" x2="293.60" y2="244.60" stroke="#262626" stroke-width="1.1" />
<line x1="291.90" y1="236.36" x2="293.60" y2="236.36" stroke="#262626" stroke-width="1.0" />
<line x1="291.90" y1="228.12" x2="293.60" y2="228.12" stroke="#262626" stroke-width="1.0" />
<line x1="291.90" y1="219.88" x2="293.60" y2="219.88" stroke="#262626" stroke-width="1.0" />
<line x1="291.90" y1="211.64" x2="293.60" y2="211.64" stroke="#262626" stroke-width="1.0" />
<line x1="290.40" y1="203.40" x2="293.60" y2="203.40" stroke="#262626" stroke-width="1.1" />
<line x1="293.00" y1="285.80" x2="419.60" y2="285.80" stroke="#262626" stroke-width="1.35" />
<line x1="293.60" y1="285.80" x2="293.60" y2="288.70" stroke="#262626" stroke-width="1.0" />
<line x1="334.80" y1="285.80" x2="334.80" y2="288.70" stroke="#262626" stroke-width="1.0" />
<line x1="376.00" y1="285.80" x2="376.00" y2="288.70" stroke="#262626" stroke-width="1.0" />
<line x1="417.20" y1="285.80" x2="417.20" y2="288.70" stroke="#262626" stroke-width="1.0" />
<text x="288.00" y="206.40" font-size="8.6" fill="#1e1e1e" stroke="#1e1e1e" stroke-width="0.25" text-anchor="end" font-weight="normal" textLength="13.3" lengthAdjust="spacingAndGlyphs" >100</text>
<text x="288.00" y="247.60" font-size="8.6" fill="#1e1e1e" stroke="#1e1e1e" stroke-width="0.25" text-anchor="end" font-weight="normal" textLength="9.0" lengthAdjust="spacingAndGlyphs" >50</text>
<text x="288.00" y="288.80" font-size="8.6" fill="#1e1e1e" stroke="#1e1e1e" stroke-width="0.25" text-anchor="end" font-weight="normal" textLength="4.6" lengthAdjust="spacingAndGlyphs" >0</text>
<text x="293.60" y="299.00" font-size="8.6" fill="#1e1e1e" stroke="#1e1e1e" stroke-width="0.25" text-anchor="middle" font-weight="normal" textLength="15.2" lengthAdjust="spacingAndGlyphs" >0.01</text>
<text x="293.60" y="310.90" font-size="8.6" fill="#1e1e1e" stroke="#1e1e1e" stroke-width="0.25" text-anchor="middle" font-weight="normal" textLength="20.8" lengthAdjust="spacingAndGlyphs" >0.005</text>
<text x="334.80" y="299.00" font-size="8.6" fill="#1e1e1e" stroke="#1e1e1e" stroke-width="0.25" text-anchor="middle" font-weight="normal" textLength="11.2" lengthAdjust="spacingAndGlyphs" >0.1</text>
<text x="334.80" y="310.90" font-size="8.6" fill="#1e1e1e" stroke="#1e1e1e" stroke-width="0.25" text-anchor="middle" font-weight="normal" textLength="15.2" lengthAdjust="spacingAndGlyphs" >0.05</text>
<text x="376.00" y="299.00" font-size="8.6" fill="#1e1e1e" stroke="#1e1e1e" stroke-width="0.25" text-anchor="middle" font-weight="normal" textLength="4.4" lengthAdjust="spacingAndGlyphs" >1</text>
<text x="376.00" y="310.90" font-size="8.6" fill="#1e1e1e" stroke="#1e1e1e" stroke-width="0.25" text-anchor="middle" font-weight="normal" textLength="11.2" lengthAdjust="spacingAndGlyphs" >0.5</text>
<text x="417.20" y="299.00" font-size="8.6" fill="#1e1e1e" stroke="#1e1e1e" stroke-width="0.25" text-anchor="middle" font-weight="normal" textLength="9.0" lengthAdjust="spacingAndGlyphs" >10</text>
<text x="417.20" y="310.90" font-size="8.6" fill="#1e1e1e" stroke="#1e1e1e" stroke-width="0.25" text-anchor="middle" font-weight="normal" textLength="4.6" lengthAdjust="spacingAndGlyphs" >5</text>
<text x="430.80" y="299.00" font-size="8.5" fill="#1e1e1e" stroke="#1e1e1e" stroke-width="0.25" text-anchor="start" font-weight="normal" textLength="42.4" lengthAdjust="spacingAndGlyphs" >&#181;M PIM447</text>
<text x="430.80" y="310.90" font-size="8.5" fill="#1e1e1e" stroke="#1e1e1e" stroke-width="0.25" text-anchor="start" font-weight="normal" textLength="74.2" lengthAdjust="spacingAndGlyphs" >&#181;M Dexamethasone</text>
<text transform="translate(268.70000000000005,245.2) rotate(-90)" font-size="11.0" fill="#1e1e1e" stroke="#1e1e1e" stroke-width="0.22" text-anchor="middle" textLength="72" lengthAdjust="spacingAndGlyphs">Relative cell viability</text>
<text x="355.20" y="186.30" font-size="9.8" fill="#1e1e1e" stroke="#1e1e1e" stroke-width="0.25" text-anchor="middle" font-weight="normal" textLength="29.6" lengthAdjust="spacingAndGlyphs" >PDX#8</text>
<text x="355.20" y="197.90" font-size="9.8" fill="#1e1e1e" stroke="#1e1e1e" stroke-width="0.25" text-anchor="middle" font-weight="normal" textLength="51" lengthAdjust="spacingAndGlyphs" >spleen cells</text>
<line x1="433.80" y1="203.60" x2="443.40" y2="203.60" stroke="#2a4a85" stroke-width="0.95" />
<circle cx="438.6" cy="203.6" r="1.7" fill="#173a78"/>
<text x="449.20" y="206.80" font-size="8.0" fill="#1e1e1e" stroke="#1e1e1e" stroke-width="0.25" text-anchor="start" font-weight="normal" textLength="26.4" lengthAdjust="spacing" >PIM447</text>
<line x1="433.80" y1="214.90" x2="443.40" y2="214.90" stroke="#b3103c" stroke-width="0.95" />
<rect x="436.70000000000005" y="213.1" width="3.8" height="3.6" rx="1.1" fill="#a9002c"/>
<text x="449.20" y="218.10" font-size="8.0" fill="#1e1e1e" stroke="#1e1e1e" stroke-width="0.25" text-anchor="start" font-weight="normal" textLength="13.6" lengthAdjust="spacing" >Dex</text>
<line x1="433.80" y1="226.20" x2="443.40" y2="226.20" stroke="#92c772" stroke-width="0.95" />
<circle cx="438.6" cy="226.2" r="1.3" fill="#5aa63a"/>
<text x="449.20" y="229.40" font-size="8.0" fill="#1e1e1e" stroke="#1e1e1e" stroke-width="0.25" text-anchor="start" font-weight="normal" textLength="49.2" lengthAdjust="spacing" >PIM447 + Dex</text>
<text x="431.00" y="257.80" font-size="8.2" fill="#66ab44" stroke="#66ab44" stroke-width="0.05" text-anchor="start" font-weight="normal" textLength="26.4" lengthAdjust="spacing" >CI = 0.9</text>
<text x="431.00" y="266.80" font-size="8.2" fill="#66ab44" stroke="#66ab44" stroke-width="0.05" text-anchor="start" font-weight="normal" textLength="45.6" lengthAdjust="spacing" >No synergism</text>
<path d="M330.40 234.50 C331.42 235.22 334.42 237.50 336.50 238.80 C338.58 240.10 340.85 241.38 342.90 242.30 C344.95 243.22 346.82 243.83 348.80 244.30 C350.78 244.77 351.68 244.92 354.80 245.10 C357.92 245.28 361.25 245.35 367.50 245.40 C373.75 245.45 388.17 245.40 392.30 245.40" fill="none" stroke="#84c163" stroke-width="1.15"/>
<path d="M330.40 234.30 C331.42 234.75 334.42 236.30 336.50 237.00 C338.58 237.70 339.85 238.13 342.90 238.50 C345.95 238.87 346.57 239.07 354.80 239.20 C363.03 239.33 386.05 239.28 392.30 239.30" fill="none" stroke="#c2355a" stroke-width="1.15"/>
<path d="M330.40 213.50 C332.48 214.33 338.83 216.78 342.90 218.50 C346.97 220.22 351.78 222.42 354.80 223.80 C357.82 225.18 358.88 225.97 361.00 226.80 C363.12 227.63 364.38 228.23 367.50 228.80 C370.62 229.37 375.57 229.95 379.70 230.20 C383.83 230.45 390.20 230.28 392.30 230.30" fill="none" stroke="#2a4a85" stroke-width="1.2"/>
<line x1="330.40" y1="220.90" x2="330.40" y2="244.20" stroke="#8cc070" stroke-width="1.0" />
<line x1="328.70" y1="220.90" x2="332.10" y2="220.90" stroke="#8cc070" stroke-width="1.0" />
<line x1="328.70" y1="244.20" x2="332.10" y2="244.20" stroke="#8cc070" stroke-width="1.0" />
<line x1="342.78" y1="241.90" x2="342.78" y2="247.50" stroke="#8cc070" stroke-width="1.0" />
<line x1="341.08" y1="241.90" x2="344.48" y2="241.90" stroke="#8cc070" stroke-width="1.0" />
<line x1="341.08" y1="247.50" x2="344.48" y2="247.50" stroke="#8cc070" stroke-width="1.0" />
<line x1="379.92" y1="245.00" x2="379.92" y2="248.80" stroke="#8cc070" stroke-width="1.0" />
<line x1="378.22" y1="245.00" x2="381.62" y2="245.00" stroke="#8cc070" stroke-width="1.0" />
<line x1="378.22" y1="248.80" x2="381.62" y2="248.80" stroke="#8cc070" stroke-width="1.0" />
<line x1="392.30" y1="252.50" x2="392.30" y2="256.90" stroke="#8cc070" stroke-width="1.0" />
<line x1="390.60" y1="252.50" x2="394.00" y2="252.50" stroke="#8cc070" stroke-width="1.0" />
<line x1="390.60" y1="256.90" x2="394.00" y2="256.90" stroke="#8cc070" stroke-width="1.0" />
<line x1="330.40" y1="217.70" x2="330.40" y2="252.60" stroke="#c43a5c" stroke-width="1.0" />
<line x1="328.70" y1="217.70" x2="332.10" y2="217.70" stroke="#c43a5c" stroke-width="1.0" />
<line x1="328.70" y1="252.60" x2="332.10" y2="252.60" stroke="#c43a5c" stroke-width="1.0" />
<line x1="342.78" y1="223.80" x2="342.78" y2="250.00" stroke="#c43a5c" stroke-width="1.0" />
<line x1="341.08" y1="223.80" x2="344.48" y2="223.80" stroke="#c43a5c" stroke-width="1.0" />
<line x1="341.08" y1="250.00" x2="344.48" y2="250.00" stroke="#c43a5c" stroke-width="1.0" />
<line x1="355.16" y1="227.40" x2="355.16" y2="253.30" stroke="#c43a5c" stroke-width="1.0" />
<line x1="353.46" y1="227.40" x2="356.86" y2="227.40" stroke="#c43a5c" stroke-width="1.0" />
<line x1="353.46" y1="253.30" x2="356.86" y2="253.30" stroke="#c43a5c" stroke-width="1.0" />
<line x1="367.54" y1="227.40" x2="367.54" y2="253.30" stroke="#c43a5c" stroke-width="1.0" />
<line x1="365.84" y1="227.40" x2="369.24" y2="227.40" stroke="#c43a5c" stroke-width="1.0" />
<line x1="365.84" y1="253.30" x2="369.24" y2="253.30" stroke="#c43a5c" stroke-width="1.0" />
<line x1="379.92" y1="236.00" x2="379.92" y2="251.20" stroke="#c43a5c" stroke-width="1.0" />
<line x1="378.22" y1="236.00" x2="381.62" y2="236.00" stroke="#c43a5c" stroke-width="1.0" />
<line x1="378.22" y1="251.20" x2="381.62" y2="251.20" stroke="#c43a5c" stroke-width="1.0" />
<line x1="392.30" y1="227.80" x2="392.30" y2="257.70" stroke="#c43a5c" stroke-width="1.0" />
<line x1="390.60" y1="227.80" x2="394.00" y2="227.80" stroke="#c43a5c" stroke-width="1.0" />
<line x1="390.60" y1="257.70" x2="394.00" y2="257.70" stroke="#c43a5c" stroke-width="1.0" />
<line x1="330.40" y1="211.10" x2="330.40" y2="220.20" stroke="#2a4a85" stroke-width="1.0" />
<line x1="328.70" y1="211.10" x2="332.10" y2="211.10" stroke="#2a4a85" stroke-width="1.0" />
<line x1="328.70" y1="220.20" x2="332.10" y2="220.20" stroke="#2a4a85" stroke-width="1.0" />
<line x1="342.78" y1="217.70" x2="342.78" y2="223.50" stroke="#2a4a85" stroke-width="1.0" />
<line x1="341.08" y1="217.70" x2="344.48" y2="217.70" stroke="#2a4a85" stroke-width="1.0" />
<line x1="341.08" y1="223.50" x2="344.48" y2="223.50" stroke="#2a4a85" stroke-width="1.0" />
<line x1="355.16" y1="210.80" x2="355.16" y2="233.90" stroke="#2a4a85" stroke-width="1.0" />
<line x1="353.46" y1="210.80" x2="356.86" y2="210.80" stroke="#2a4a85" stroke-width="1.0" />
<line x1="353.46" y1="233.90" x2="356.86" y2="233.90" stroke="#2a4a85" stroke-width="1.0" />
<line x1="367.54" y1="219.00" x2="367.54" y2="229.20" stroke="#2a4a85" stroke-width="1.0" />
<line x1="365.84" y1="219.00" x2="369.24" y2="219.00" stroke="#2a4a85" stroke-width="1.0" />
<line x1="365.84" y1="229.20" x2="369.24" y2="229.20" stroke="#2a4a85" stroke-width="1.0" />
<line x1="379.92" y1="225.90" x2="379.92" y2="236.00" stroke="#2a4a85" stroke-width="1.0" />
<line x1="378.22" y1="225.90" x2="381.62" y2="225.90" stroke="#2a4a85" stroke-width="1.0" />
<line x1="378.22" y1="236.00" x2="381.62" y2="236.00" stroke="#2a4a85" stroke-width="1.0" />
<line x1="392.30" y1="228.10" x2="392.30" y2="236.00" stroke="#2a4a85" stroke-width="1.0" />
<line x1="390.60" y1="228.10" x2="394.00" y2="228.10" stroke="#2a4a85" stroke-width="1.0" />
<line x1="390.60" y1="236.00" x2="394.00" y2="236.00" stroke="#2a4a85" stroke-width="1.0" />
<path d="M378.27 252.30 L381.57 252.30 L379.92 249.30Z" fill="#5aa63a"/>
<path d="M390.65 257.90 L393.95 257.90 L392.30 254.90Z" fill="#5aa63a"/>
<circle cx="330.40" cy="235.30" r="2.0" fill="#a9002c"/>
<circle cx="342.78" cy="233.60" r="2.0" fill="#a9002c"/>
<circle cx="355.16" cy="239.60" r="2.0" fill="#a9002c"/>
<circle cx="367.54" cy="240.40" r="2.0" fill="#a9002c"/>
<circle cx="379.92" cy="238.90" r="2.0" fill="#a9002c"/>
<circle cx="392.30" cy="242.80" r="2.0" fill="#a9002c"/>
<circle cx="330.40" cy="215.40" r="1.75" fill="#173a78"/>
<circle cx="342.78" cy="220.20" r="1.75" fill="#173a78"/>
<circle cx="355.16" cy="222.60" r="1.75" fill="#173a78"/>
<circle cx="367.54" cy="224.50" r="1.75" fill="#173a78"/>
<circle cx="379.92" cy="231.30" r="1.75" fill="#173a78"/>
<circle cx="392.30" cy="232.80" r="1.75" fill="#173a78"/>
<text x="6.60" y="20.60" font-size="12.2" fill="#000" stroke="#000" stroke-width="0.25" text-anchor="start" font-weight="bold" >A</text>
<text x="7.10" y="178.30" font-size="12.2" fill="#000" stroke="#000" stroke-width="0.25" text-anchor="start" font-weight="bold" >B</text>
<text x="6.20" y="337.70" font-size="12.2" fill="#000" stroke="#000" stroke-width="0.25" text-anchor="start" font-weight="bold" >C</text>
<text x="259.70" y="337.90" font-size="12.2" fill="#000" stroke="#000" stroke-width="0.25" text-anchor="start" font-weight="bold" >D</text>
<text x="19.80" y="345.00" font-size="8.2" fill="#1e1e1e" stroke="#1e1e1e" stroke-width="0.1" text-anchor="start" font-weight="normal" textLength="17.3" lengthAdjust="spacing" >Days</text>
<line x1="46.20" y1="353.90" x2="46.20" y2="598.00" stroke="#262626" stroke-width="1.15" />
<path d="M42.8 595.4 Q46.2 597.2 49.6 595.4 L46.2 604.3Z" fill="#111"/>
<line x1="43.20" y1="353.90" x2="49.20" y2="353.90" stroke="#262626" stroke-width="1.15" />
<line x1="43.20" y1="390.80" x2="49.30" y2="390.80" stroke="#262626" stroke-width="1.05" />
<text x="37.40" y="356.40" font-size="8.3" fill="#1e1e1e" stroke="#1e1e1e" stroke-width="0.1" text-anchor="end" font-weight="normal" textLength="4.6" lengthAdjust="spacingAndGlyphs" >0</text>
<text x="37.40" y="393.10" font-size="8.3" fill="#1e1e1e" stroke="#1e1e1e" stroke-width="0.1" text-anchor="end" font-weight="normal" textLength="9.4" lengthAdjust="spacingAndGlyphs" >25</text>
<text x="37.40" y="416.60" font-size="8.3" fill="#1e1e1e" stroke="#1e1e1e" stroke-width="0.1" text-anchor="end" font-weight="normal" textLength="9.4" lengthAdjust="spacingAndGlyphs" >28</text>
<text x="37.40" y="458.00" font-size="8.3" fill="#1e1e1e" stroke="#1e1e1e" stroke-width="0.1" text-anchor="end" font-weight="normal" textLength="9.4" lengthAdjust="spacingAndGlyphs" >32</text>
<text x="37.40" y="471.00" font-size="8.3" fill="#1e1e1e" stroke="#1e1e1e" stroke-width="0.1" text-anchor="end" font-weight="normal" textLength="9.4" lengthAdjust="spacingAndGlyphs" >35</text>
<text x="37.40" y="512.30" font-size="8.3" fill="#1e1e1e" stroke="#1e1e1e" stroke-width="0.1" text-anchor="end" font-weight="normal" textLength="9.4" lengthAdjust="spacingAndGlyphs" >39</text>
<text x="37.40" y="525.90" font-size="8.3" fill="#1e1e1e" stroke="#1e1e1e" stroke-width="0.1" text-anchor="end" font-weight="normal" textLength="9.4" lengthAdjust="spacingAndGlyphs" >42</text>
<text x="37.40" y="567.30" font-size="8.3" fill="#1e1e1e" stroke="#1e1e1e" stroke-width="0.1" text-anchor="end" font-weight="normal" textLength="9.4" lengthAdjust="spacingAndGlyphs" >46</text>
<rect x="40.1" y="414.0" width="12.6" height="41.0" fill="#000"/>
<rect x="40.1" y="468.5" width="12.6" height="41.1" fill="#000"/>
<rect x="40.1" y="523.5" width="12.6" height="41.5" fill="#000"/>
<text x="59.40" y="356.10" font-size="8.3" fill="#1e1e1e" stroke="#1e1e1e" stroke-width="0.12" text-anchor="start" font-weight="normal" textLength="105" lengthAdjust="spacing" >Injection of PDX#1 spleen cells</text>
<text x="59.40" y="393.10" font-size="8.4" fill="#1e1e1e" stroke="#1e1e1e" stroke-width="0.12" text-anchor="start" font-weight="normal" textLength="128" lengthAdjust="spacing" >Start engraftment in peripheral blood</text>
<path d="M59.0 409.7 L66.2 410.2 Q67.6 410.4 67.6 411.8 L67.6 565.6 Q67.6 567.0 66.2 567.1 L59.0 567.4" fill="none" stroke="#2a2a2a" stroke-width="1.1"/>
<path d="M67.4 486.9 Q68.2 488.2 70.5 488.3 L75.9 488.4 L75.9 489.4 L70.5 489.5 Q68.2 489.6 67.4 490.9Z" fill="#2a2a2a"/>
<text x="139.00" y="421.60" font-size="8.3" fill="#1e1e1e" stroke="#1e1e1e" stroke-width="0.12" text-anchor="start" font-weight="normal" textLength="47.0" lengthAdjust="spacingAndGlyphs" >TREATMENT</text>
<rect x="83.3" y="433.8" width="158" height="14.5" fill="none" stroke="#7a4b8e" stroke-width="1.15"/>
<rect x="83.3" y="454.8" width="158" height="37.5" fill="none" stroke="#4c6ea9" stroke-width="1.15"/>
<rect x="83.3" y="498.3" width="158" height="40.0" fill="none" stroke="#c12a50" stroke-width="1.15"/>
<rect x="83.3" y="543.0" width="158" height="22.2" fill="none" stroke="#78bb5a" stroke-width="1.15"/>
<text x="88.00" y="443.90" font-size="8.2" fill="#1e1e1e" stroke="#1e1e1e" stroke-width="0.14" text-anchor="start" font-weight="normal" textLength="57.4" lengthAdjust="spacingAndGlyphs" >5 MICE VEHICLE</text>
<text x="88.00" y="462.80" font-size="8.2" fill="#1e1e1e" stroke="#1e1e1e" stroke-width="0.14" text-anchor="start" font-weight="normal" textLength="53.4" lengthAdjust="spacingAndGlyphs" >5 MICE PIM447</text>
<text x="87.80" y="507.00" font-size="8.2" fill="#1e1e1e" stroke="#1e1e1e" stroke-width="0.14" text-anchor="start" font-weight="normal" textLength="95.2" lengthAdjust="spacingAndGlyphs" >5 MICE DEXAMETHASONE</text>
<text x="88.00" y="552.80" font-size="8.2" fill="#1e1e1e" stroke="#1e1e1e" stroke-width="0.14" text-anchor="start" font-weight="normal" textLength="130" lengthAdjust="spacingAndGlyphs" >5 MICE PIM447 + DEXAMETHASONE</text>
<text x="88.00" y="560.30" font-size="6.9" fill="#1e1e1e" stroke="#1e1e1e" stroke-width="0.1" text-anchor="start" font-weight="normal" textLength="84" lengthAdjust="spacingAndGlyphs" >Idem monotherapy schedule</text>
<text x="88.00" y="471.20" font-size="6.8" fill="#1e1e1e" stroke="#1e1e1e" stroke-width="0.12" text-anchor="start" font-weight="normal" textLength="34.8" lengthAdjust="spacingAndGlyphs" >Day 28 &#8211; 32</text>
<text x="88.00" y="479.95" font-size="6.8" fill="#1e1e1e" stroke="#1e1e1e" stroke-width="0.12" text-anchor="start" font-weight="normal" textLength="34.8" lengthAdjust="spacingAndGlyphs" >Day 35 &#8211; 39</text>
<text x="88.00" y="488.70" font-size="6.8" fill="#1e1e1e" stroke="#1e1e1e" stroke-width="0.12" text-anchor="start" font-weight="normal" textLength="34.8" lengthAdjust="spacingAndGlyphs" >Day 42 &#8211; 46</text>
<path d="M126.3 466.20 L128.6 466.20 Q129.4 466.20 129.4 467.00 L129.4 488.20 Q129.4 489.00 128.6 489.00 L126.3 489.00" fill="none" stroke="#4c6ea9" stroke-width="0.95"/>
<line x1="129.40" y1="477.60" x2="132.30" y2="477.60" stroke="#4c6ea9" stroke-width="0.95" />
<text x="88.00" y="516.80" font-size="6.8" fill="#1e1e1e" stroke="#1e1e1e" stroke-width="0.12" text-anchor="start" font-weight="normal" textLength="34.8" lengthAdjust="spacingAndGlyphs" >Day 28 &#8211; 32</text>
<text x="88.00" y="525.55" font-size="6.8" fill="#1e1e1e" stroke="#1e1e1e" stroke-width="0.12" text-anchor="start" font-weight="normal" textLength="34.8" lengthAdjust="spacingAndGlyphs" >Day 35 &#8211; 39</text>
<text x="88.00" y="534.30" font-size="6.8" fill="#1e1e1e" stroke="#1e1e1e" stroke-width="0.12" text-anchor="start" font-weight="normal" textLength="34.8" lengthAdjust="spacingAndGlyphs" >Day 42 &#8211; 46</text>
<path d="M126.7 511.80 L129.0 511.80 Q129.8 511.80 129.8 512.60 L129.8 533.80 Q129.8 534.60 129.0 534.60 L126.7 534.60" fill="none" stroke="#c12a50" stroke-width="0.95"/>
<line x1="129.80" y1="523.20" x2="132.70" y2="523.20" stroke="#c12a50" stroke-width="0.95" />
<text x="136.10" y="480.10" font-size="7.0" fill="#1e1e1e" stroke="#1e1e1e" stroke-width="0.12" text-anchor="start" font-weight="normal" textLength="52.6" lengthAdjust="spacingAndGlyphs" >80 mg/kg PIM447</text>
<text x="135.80" y="525.90" font-size="7.0" fill="#1e1e1e" stroke="#1e1e1e" stroke-width="0.12" text-anchor="start" font-weight="normal" textLength="38.2" lengthAdjust="spacingAndGlyphs" >5 mg/kg Dex</text>
<circle cx="43.9" cy="607.9" r="0.7" fill="#222"/>
<circle cx="46.2" cy="607.9" r="0.7" fill="#222"/>
<circle cx="48.5" cy="607.9" r="0.7" fill="#222"/>
<text x="59.50" y="608.50" font-size="8.4" fill="#1e1e1e" stroke="#1e1e1e" stroke-width="0.12" text-anchor="start" font-weight="normal" textLength="27.9" lengthAdjust="spacing" >Survival</text>
<line x1="291.10" y1="351.50" x2="291.10" y2="469.50" stroke="#262626" stroke-width="1.35" />
<line x1="290.50" y1="468.90" x2="465.90" y2="468.90" stroke="#262626" stroke-width="1.35" />
<line x1="287.90" y1="468.90" x2="291.10" y2="468.90" stroke="#262626" stroke-width="1.1" />
<line x1="289.40" y1="458.47" x2="291.10" y2="458.47" stroke="#262626" stroke-width="1.0" />
<line x1="289.40" y1="448.04" x2="291.10" y2="448.04" stroke="#262626" stroke-width="1.0" />
<line x1="289.40" y1="437.61" x2="291.10" y2="437.61" stroke="#262626" stroke-width="1.0" />
<line x1="289.40" y1="427.18" x2="291.10" y2="427.18" stroke="#262626" stroke-width="1.0" />
<line x1="287.90" y1="416.75" x2="291.10" y2="416.75" stroke="#262626" stroke-width="1.1" />
<line x1="289.40" y1="406.32" x2="291.10" y2="406.32" stroke="#262626" stroke-width="1.0" />
<line x1="289.40" y1="395.89" x2="291.10" y2="395.89" stroke="#262626" stroke-width="1.0" />
<line x1="289.40" y1="385.46" x2="291.10" y2="385.46" stroke="#262626" stroke-width="1.0" />
<line x1="289.40" y1="375.03" x2="291.10" y2="375.03" stroke="#262626" stroke-width="1.0" />
<line x1="287.90" y1="364.60" x2="291.10" y2="364.60" stroke="#262626" stroke-width="1.1" />
<line x1="291.10" y1="468.90" x2="291.10" y2="471.90" stroke="#262626" stroke-width="1.0" />
<line x1="319.77" y1="468.90" x2="319.77" y2="470.80" stroke="#262626" stroke-width="1.0" />
<line x1="348.44" y1="468.90" x2="348.44" y2="471.90" stroke="#262626" stroke-width="1.0" />
<line x1="377.11" y1="468.90" x2="377.11" y2="470.80" stroke="#262626" stroke-width="1.0" />
<line x1="405.78" y1="468.90" x2="405.78" y2="471.90" stroke="#262626" stroke-width="1.0" />
<line x1="434.45" y1="468.90" x2="434.45" y2="470.80" stroke="#262626" stroke-width="1.0" />
<line x1="463.12" y1="468.90" x2="463.12" y2="471.90" stroke="#262626" stroke-width="1.0" />
<text x="285.60" y="367.70" font-size="8.6" fill="#1e1e1e" stroke="#1e1e1e" stroke-width="0.25" text-anchor="end" font-weight="normal" textLength="11.8" lengthAdjust="spacingAndGlyphs" >1.0</text>
<text x="285.60" y="419.85" font-size="8.6" fill="#1e1e1e" stroke="#1e1e1e" stroke-width="0.25" text-anchor="end" font-weight="normal" textLength="11.8" lengthAdjust="spacingAndGlyphs" >0.5</text>
<text x="285.60" y="472.00" font-size="8.6" fill="#1e1e1e" stroke="#1e1e1e" stroke-width="0.25" text-anchor="end" font-weight="normal" textLength="11.8" lengthAdjust="spacingAndGlyphs" >0.0</text>
<text x="291.10" y="481.70" font-size="8.6" fill="#1e1e1e" stroke="#1e1e1e" stroke-width="0.25" text-anchor="middle" font-weight="normal" textLength="4.6" lengthAdjust="spacingAndGlyphs" >0</text>
<text x="348.44" y="481.70" font-size="8.6" fill="#1e1e1e" stroke="#1e1e1e" stroke-width="0.25" text-anchor="middle" font-weight="normal" textLength="9.4" lengthAdjust="spacingAndGlyphs" >20</text>
<text x="405.78" y="481.70" font-size="8.6" fill="#1e1e1e" stroke="#1e1e1e" stroke-width="0.25" text-anchor="middle" font-weight="normal" textLength="9.4" lengthAdjust="spacingAndGlyphs" >40</text>
<text x="463.12" y="481.70" font-size="8.6" fill="#1e1e1e" stroke="#1e1e1e" stroke-width="0.25" text-anchor="middle" font-weight="normal" textLength="9.4" lengthAdjust="spacingAndGlyphs" >60</text>
<text x="377.40" y="495.80" font-size="9.8" fill="#1e1e1e" stroke="#1e1e1e" stroke-width="0.2" text-anchor="middle" font-weight="normal" textLength="92.8" lengthAdjust="spacingAndGlyphs" >Days after end of treatment</text>
<text transform="translate(267.6,411.5) rotate(-90)" font-size="8.8" fill="#1e1e1e" stroke="#1e1e1e" stroke-width="0.18" text-anchor="middle" textLength="55" lengthAdjust="spacingAndGlyphs">Fraction survival</text>
<text x="374.60" y="345.70" font-size="9.4" fill="#1e1e1e" stroke="#1e1e1e" stroke-width="0.25" text-anchor="middle" font-weight="normal" textLength="29" lengthAdjust="spacingAndGlyphs" >PDX#1</text>
<path d="M291.1 364.60 H443.05 V406.32 H445.92 V427.18 H451.65 V468.9" fill="none" stroke="#66ae45" stroke-width="1.25"/>
<path d="M291.1 364.60 H371.38 V468.9" fill="none" stroke="#bf1a48" stroke-width="1.25"/>
<path d="M291.1 364.60 H371.38 V385.46 H379.98 V406.32 H385.71 V468.9" fill="none" stroke="#2e4c89" stroke-width="1.25"/>
<path d="M291.1 364.60 H331.24 V427.18 H336.97 V468.9" fill="none" stroke="#5f3182" stroke-width="1.25"/>
<path d="M330.5 356.2 V361.5 M330.5 358.9 H372.3 M372.3 356.2 V361.5" fill="none" stroke="#4a4a4a" stroke-width="1.15"/>
<text x="351.40" y="358.60" font-size="9.5" fill="#222" stroke="#222" stroke-width="0.25" text-anchor="middle" font-weight="normal" textLength="8.0" lengthAdjust="spacingAndGlyphs" >**</text>
<path d="M377.2 356.2 V361.5 M377.2 358.9 H439.7 M439.7 356.2 V361.5" fill="none" stroke="#4a4a4a" stroke-width="1.15"/>
<text x="408.45" y="358.60" font-size="9.5" fill="#222" stroke="#222" stroke-width="0.25" text-anchor="middle" font-weight="normal" textLength="8.0" lengthAdjust="spacingAndGlyphs" >**</text>
<text x="463.00" y="391.20" font-size="8.0" fill="#6a3d8c" stroke="#6a3d8c" stroke-width="0.1" text-anchor="start" font-weight="normal" textLength="30.2" lengthAdjust="spacing" >VEHICLE</text>
<text x="463.00" y="404.60" font-size="8.0" fill="#4a68a3" stroke="#4a68a3" stroke-width="0.1" text-anchor="start" font-weight="normal" textLength="25.6" lengthAdjust="spacing" >PIM447</text>
<text x="463.00" y="418.20" font-size="8.0" fill="#c01c4c" stroke="#c01c4c" stroke-width="0.1" text-anchor="start" font-weight="normal" textLength="14.8" lengthAdjust="spacing" >DEX</text>
<text x="463.00" y="431.70" font-size="8.0" fill="#76b955" stroke="#76b955" stroke-width="0.1" text-anchor="start" font-weight="normal" textLength="49.8" lengthAdjust="spacing" >DEX + PIM447</text>
<path d="M0 0 H520 V618 H0Z M1.2 1.1 V616.3 H518.9 V1.1Z" fill="#000" fill-rule="evenodd"/>
</svg>
</body></html>
